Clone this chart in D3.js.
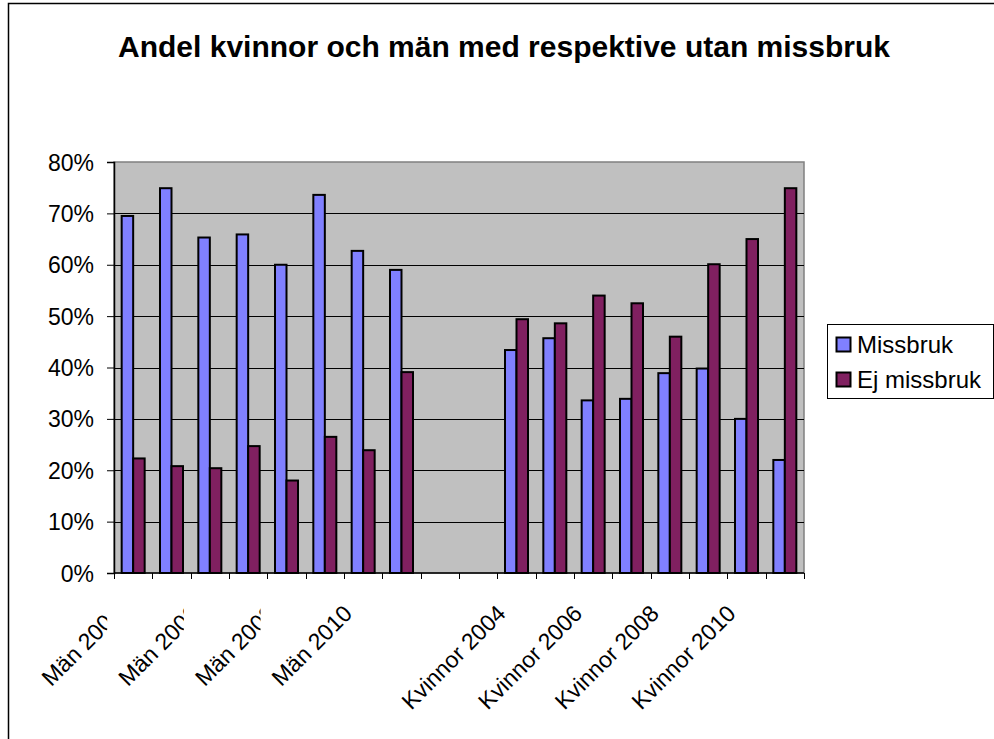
<!DOCTYPE html>
<html>
<meta charset="utf-8">
<head>
<title>Andel kvinnor och män med respektive utan missbruk</title>
<style>
  body { margin: 0; background: #fff; }
  svg { display: block; font-family: "Liberation Sans", Arial, sans-serif; }
  .axis text { font-size: 23px; fill: #000; }
</style>
</head>
<body>
<script src="https://d3js.org/d3.v7.min.js"></script>
<script>

// category labels (two empty slots between men and women)
var categories = ["Män 2004", "Män 2005", "Män 2006", "Män 2007", "Män 2008", "Män 2009", "Män 2010", "Män 2011",
                  "", "",
                  "Kvinnor 2004", "Kvinnor 2005", "Kvinnor 2006", "Kvinnor 2007", "Kvinnor 2008", "Kvinnor 2009", "Kvinnor 2010", "Kvinnor 2011"];
var series = ["Missbruk", "Ej missbruk"];
var missbruk   = [69.5, 74.9, 65.3, 65.9, 60.0, 73.6, 62.7, 59.0, null, null, 43.4, 45.7, 33.6, 33.9, 38.9, 39.8, 30.0, 22.0];
var ejMissbruk = [22.3, 20.8, 20.4, 24.7, 18.0, 26.5, 23.9, 39.1, null, null, 49.4, 48.6, 54.0, 52.5, 46.0, 60.1, 65.0, 74.9];
var yTicks = [0, 10, 20, 30, 40, 50, 60, 70, 80];
var colors = ["#8080ff", "#802060"];

var W = 994, H = 739;
var plot = {left: 114, right: 804, top: 162, bottom: 573};

var svg = d3.select("body").append("svg")
    .attr("width", W)
    .attr("height", H);

// chart border
svg.append("rect")
    .attr("x", 8.5).attr("y", 3.5)
    .attr("width", W).attr("height", H)
    .attr("fill", "#fff")
    .attr("stroke", "#000")
    .attr("stroke-width", 1.5);

var idx = categories.map(function(d, i) { return i; });

var x = d3.scaleBand().domain(idx).range([plot.left, plot.right]);
var xs = d3.scaleBand().domain(series).range([0, x.bandwidth()]).paddingOuter(0.667);
var y = d3.scaleLinear().domain([0, 80]).range([plot.bottom, plot.top]);

// plot area
svg.append("rect")
    .attr("x", plot.left).attr("y", plot.top)
    .attr("width", plot.right - plot.left).attr("height", plot.bottom - plot.top)
    .attr("fill", "#c0c0c0")
    .attr("stroke", "#808080")
    .attr("stroke-width", 1.5);

// gridlines
svg.append("g")
  .selectAll("line")
  .data(yTicks.slice(1, -1))
  .enter().append("line")
    .attr("x1", plot.left).attr("x2", plot.right)
    .attr("y1", function(d) { return Math.round(y(d)) + 0.5; })
    .attr("y2", function(d) { return Math.round(y(d)) + 0.5; })
    .attr("stroke", "#000")
    .attr("stroke-width", 1);

// bars
var rows = categories.map(function(c, i) {
  return {i: i, values: [missbruk[i], ejMissbruk[i]]};
});

var groups = svg.append("g")
  .selectAll("g")
  .data(rows)
  .enter().append("g")
    .attr("transform", function(d) { return "translate(" + x(d.i) + ",0)"; });

groups.selectAll("rect")
  .data(function(d) {
    return series.map(function(s, k) { return {s: s, k: k, v: d.values[k]}; })
                 .filter(function(e) { return e.v != null; });
  })
  .enter().append("rect")
    .attr("x", function(d) { return xs(d.s); })
    .attr("width", xs.bandwidth())
    .attr("y", function(d) { return y(d.v); })
    .attr("height", function(d) { return y(0) - y(d.v); })
    .attr("fill", function(d) { return colors[d.k]; })
    .attr("stroke", "#000")
    .attr("stroke-width", 2);

// y axis
var yAxis = d3.axisLeft(y)
    .tickValues(yTicks)
    .tickFormat(function(d) { return d + "%"; })
    .tickSize(7)
    .tickPadding(13);

svg.append("g")
    .attr("class", "axis")
    .attr("transform", "translate(" + plot.left + ",0)")
    .call(yAxis)
    .call(function(g) {
      g.select(".domain").attr("stroke", "#000").attr("stroke-width", 1.5);
      g.selectAll(".tick line").attr("stroke", "#000");
      g.selectAll(".tick text").attr("dy", "0.35em");
    });

// x axis: tick marks at category boundaries
var bounds = d3.range(categories.length + 1).map(function(i) {
  return i < categories.length ? x(i) : plot.right;
});
var xg = svg.append("g").attr("class", "axis");
xg.append("line")
    .attr("x1", plot.left).attr("x2", plot.right)
    .attr("y1", plot.bottom).attr("y2", plot.bottom)
    .attr("stroke", "#000").attr("stroke-width", 1.5);
xg.selectAll("line.tick")
  .data(bounds)
  .enter().append("line")
    .attr("class", "tick")
    .attr("x1", function(d) { return Math.round(d) + 0.5; })
    .attr("x2", function(d) { return Math.round(d) + 0.5; })
    .attr("y1", plot.bottom).attr("y2", plot.bottom + 6)
    .attr("stroke", "#000");

// every other category label, rotated; men's labels get clipped like the original
var defs = svg.append("defs");
var labelIdx = idx.filter(function(i) { return i % 2 === 0 && categories[i] !== ""; });
labelIdx.forEach(function(i) {
  var cx = x(i) + x.bandwidth() / 2;
  var clipped = i < 6;
  if (clipped) {
    defs.append("clipPath").attr("id", "clip" + i)
      .append("rect")
        .attr("x", 0).attr("y", plot.bottom)
        .attr("width", cx - 26).attr("height", H - plot.bottom);
  }
  var wrap = xg.append("g");
  if (clipped) wrap.attr("clip-path", "url(#clip" + i + ")");
  wrap.append("text")
      .attr("transform", "translate(" + (cx - 9.5) + "," + (plot.bottom + 42) + ") rotate(-45)")
      .attr("text-anchor", "end")
      .text(categories[i]);
});

// title, sized to span the same width as the original
var title = svg.append("text")
    .attr("x", 504).attr("y", 57)
    .attr("text-anchor", "middle")
    .style("font-size", "26px")
    .style("font-weight", "bold")
    .text("Andel kvinnor och män med respektive utan missbruk");
var tw = title.node().getComputedTextLength();
title.style("font-size", (26 * 772 / tw).toFixed(2) + "px");

// legend
var lg = svg.append("g").attr("transform", "translate(827,324)");
lg.append("rect")
    .attr("x", 0.5).attr("y", 0.5)
    .attr("width", 166).attr("height", 74)
    .attr("fill", "#fff").attr("stroke", "#000");
series.forEach(function(s, k) {
  var row = lg.append("g").attr("transform", "translate(9," + (29 + k * 35) + ")");
  row.append("rect")
      .attr("x", 0.5).attr("y", -15.5)
      .attr("width", 14).attr("height", 14)
      .attr("fill", colors[k]).attr("stroke", "#000").attr("stroke-width", 2);
  row.append("text")
      .attr("x", 21).attr("y", 0)
      .style("font-size", "24px")
      .text(s);
});

</script>
</body>
</html>
